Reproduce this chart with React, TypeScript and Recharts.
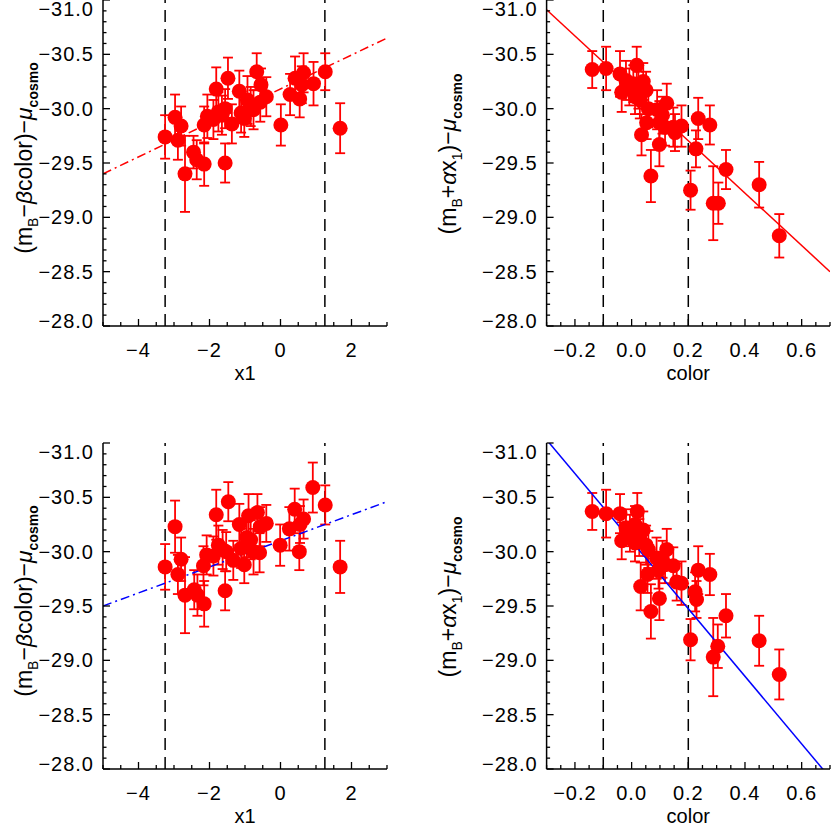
import React from 'react';
import { ScatterChart, Scatter, XAxis, YAxis, ErrorBar, ReferenceLine } from 'recharts';

const FONT = '"Liberation Sans", Arial, Helvetica, sans-serif';

// upper left: (mB - beta*color) - mu vs x1
const x1UpperLeft = [-3.25, -2.97, -2.8, -2.89, -2.69, -2.45, -2.36, -2.15, -2.15, -2.06, -1.81, -1.89, -1.75, -1.65, -1.56, -1.48, -1.56, -1.37, -1.16, -1.11, -1.02, -0.93, -0.84, -0.76, -0.67, -0.55, -0.57, -0.4, 0.01, 0.27, 0.41, 0.54, 0.6, 0.65, 0.93, 1.26, 1.68];
const magUpperLeft = [-29.74, -29.92, -29.84, -29.71, -29.4, -29.6, -29.53, -29.49, -29.85, -29.93, -30.18, -29.9, -29.97, -29.94, -29.5, -30.28, -30.0, -29.86, -30.16, -29.96, -29.91, -30.08, -30.02, -29.99, -30.34, -30.22, -30.06, -30.11, -29.85, -30.13, -30.28, -30.09, -30.22, -30.33, -30.23, -30.34, -29.82];
const errUpperLeft = [0.2, 0.21, 0.18, 0.18, 0.35, 0.15, 0.18, 0.2, 0.17, 0.2, 0.2, 0.18, 0.18, 0.18, 0.18, 0.19, 0.18, 0.18, 0.19, 0.18, 0.17, 0.22, 0.18, 0.18, 0.17, 0.15, 0.18, 0.18, 0.19, 0.19, 0.2, 0.17, 0.17, 0.18, 0.2, 0.17, 0.23];

// upper right: (mB + alpha*x1) - mu vs color
const colorUpperRight = [-0.139, -0.09, -0.041, -0.035, -0.02, -0.008, 0.006, 0.018, 0.012, 0.024, 0.029, 0.035, 0.041, 0.051, 0.059, 0.053, 0.068, 0.09, 0.098, 0.098, 0.109, 0.118, 0.124, 0.147, 0.153, 0.176, 0.208, 0.227, 0.235, 0.276, 0.288, 0.306, 0.333, 0.45, 0.521];
const magUpperRight = [-30.36, -30.37, -30.32, -30.15, -30.26, -30.2, -30.23, -30.4, -30.11, -30.17, -30.08, -29.76, -30.25, -30.17, -30.0, -29.87, -29.38, -29.99, -29.87, -29.67, -29.94, -29.83, -30.05, -29.83, -29.78, -29.84, -29.25, -29.63, -29.91, -29.85, -29.13, -29.13, -29.44, -29.3, -28.83];
const errUpperRight = [0.17, 0.2, 0.21, 0.18, 0.18, 0.17, 0.17, 0.17, 0.16, 0.17, 0.17, 0.19, 0.17, 0.17, 0.17, 0.15, 0.24, 0.18, 0.2, 0.2, 0.17, 0.17, 0.18, 0.18, 0.17, 0.19, 0.18, 0.17, 0.19, 0.18, 0.34, 0.19, 0.18, 0.21, 0.2];

// lower left
const x1LowerLeft = [-3.25, -2.97, -2.89, -2.8, -2.69, -2.43, -2.34, -2.15, -2.17, -2.08, -1.81, -1.89, -1.75, -1.63, -1.56, -1.47, -1.53, -1.33, -1.16, -1.11, -1.02, -0.95, -0.9, -0.84, -0.76, -0.65, -0.57, -0.59, -0.4, -0.01, 0.25, 0.4, 0.53, 0.55, 0.65, 0.91, 1.26, 1.68];
const magLowerLeft = [-29.86, -30.23, -29.79, -29.93, -29.6, -29.65, -29.6, -29.52, -29.87, -29.97, -30.34, -29.96, -30.06, -30.02, -29.64, -30.46, -30.0, -29.92, -30.25, -30.03, -29.88, -30.13, -30.33, -30.11, -30.0, -30.36, -30.23, -29.99, -30.26, -30.06, -30.21, -30.39, -30.0, -30.25, -30.3, -30.59, -30.43, -29.86];
const errLowerLeft = [0.21, 0.24, 0.18, 0.2, 0.35, 0.18, 0.19, 0.21, 0.18, 0.18, 0.23, 0.18, 0.18, 0.18, 0.18, 0.18, 0.18, 0.18, 0.19, 0.18, 0.17, 0.18, 0.2, 0.18, 0.21, 0.17, 0.18, 0.18, 0.17, 0.19, 0.2, 0.19, 0.17, 0.17, 0.18, 0.23, 0.18, 0.24];

// lower right
const colorLowerRight = [-0.139, -0.09, -0.041, -0.035, -0.02, -0.006, 0.012, 0.02, 0.012, 0.027, 0.032, 0.041, 0.051, 0.059, 0.056, 0.068, 0.088, 0.095, 0.098, 0.109, 0.118, 0.124, 0.147, 0.159, 0.176, 0.208, 0.224, 0.229, 0.235, 0.276, 0.288, 0.304, 0.333, 0.45, 0.521];
const magLowerRight = [-30.37, -30.35, -30.35, -30.1, -30.22, -30.17, -30.25, -30.37, -30.08, -30.13, -29.68, -30.2, -30.06, -30.02, -29.79, -29.45, -29.94, -29.83, -29.57, -29.93, -29.88, -30.02, -29.87, -29.72, -29.71, -29.19, -29.63, -29.56, -29.83, -29.79, -29.03, -29.13, -29.41, -29.18, -28.87];
const errLowerRight = [0.17, 0.22, 0.18, 0.17, 0.17, 0.17, 0.17, 0.17, 0.17, 0.17, 0.22, 0.17, 0.18, 0.17, 0.17, 0.25, 0.19, 0.17, 0.2, 0.17, 0.17, 0.19, 0.17, 0.17, 0.2, 0.19, 0.18, 0.17, 0.22, 0.19, 0.36, 0.2, 0.2, 0.23, 0.23];

// cuts and fitted relations
const cutsX1 = [-3.25, 1.25];
const cutsColor = [-0.1, 0.2];
const fitUpperLeft = [{ x: -5, y: -29.4 }, { x: 3, y: -30.65 }];
const fitUpperRight = [{ x: -0.3, y: -30.91 }, { x: 0.7, y: -28.5 }];
const fitLowerLeft = [{ x: -5, y: -29.5 }, { x: 3, y: -30.46 }];
const fitLowerRight = [{ x: -0.3, y: -31.03 }, { x: 0.7, y: -27.92 }];

// axes
const yDomain: [number, number] = [-31, -28];
const yMajor = [-31, -30.5, -30, -29.5, -29, -28.5, -28];
const x1Domain: [number, number] = [-5, 3];
const x1Major = [-4, -2, 0, 2];
const colorDomain: [number, number] = [-0.3, 0.7];
const colorMajor = [-0.2, 0, 0.2, 0.4, 0.6];

const steps = (from: number, to: number, step: number) => {
  const n = Math.round((to - from) / step);
  const out: number[] = [];
  for (let i = 0; i <= n; i++) out.push(Math.round((from + i * step) * 1000) / 1000);
  return out;
};
const yMinor = steps(-31, -28, 0.1);
const x1Minor = steps(-5, 3, 0.5);
const colorMinor = steps(-0.3, 0.7, 0.05);

const isMajor = (majors: number[], v: number) => majors.some((m) => Math.abs(m - v) < 1e-6);
const fmt = (v: number, digits: number) => v.toFixed(digits).replace('-', '\u2212');

const bottomTick = (majors: number[], digits: number) => (p: any) => {
  const v = p.payload.value;
  const major = isMajor(majors, v);
  return (
    <g>
      <line x1={p.x} x2={p.x} y1={p.y} y2={p.y - (major ? 7 : 4)} stroke="#000" strokeWidth={1.3} />
      {major && (
        <text x={p.x} y={p.y + 31} textAnchor="middle" fontSize={20} fontFamily={FONT} letterSpacing={1} fill="#000">
          {fmt(v, digits)}
        </text>
      )}
    </g>
  );
};

const topTick = (majors: number[]) => (p: any) => {
  const major = isMajor(majors, p.payload.value);
  return <line x1={p.x} x2={p.x} y1={p.y} y2={p.y + (major ? 7 : 4)} stroke="#000" strokeWidth={1.3} />;
};

const leftTick = (p: any) => {
  const v = p.payload.value;
  const major = isMajor(yMajor, v);
  const shift = v === -31 ? 9 : v === -28 ? -5 : 0;
  return (
    <g>
      <line x1={p.x} x2={p.x + (major ? 7 : 3.5)} y1={p.y} y2={p.y} stroke="#000" strokeWidth={1.3} />
      {major && (
        <text x={p.x - 9} y={p.y + 7 + shift} textAnchor="end" fontSize={20} fontFamily={FONT} letterSpacing={1} fill="#000">
          {fmt(v, 1)}
        </text>
      )}
    </g>
  );
};

const rightTick = (p: any) => {
  const major = isMajor(yMajor, p.payload.value);
  return <line x1={p.x} x2={p.x - (major ? 7 : 3.5)} y1={p.y} y2={p.y} stroke="#000" strokeWidth={1.3} />;
};

const titleBeta = (
  <>
    (m<tspan fontSize={14} dy={6}>B</tspan>
    <tspan dy={-6}>{'\u2212'}</tspan>
    <tspan fontStyle="italic">β</tspan>color){'\u2212'}
    <tspan fontStyle="italic">μ</tspan>
    <tspan fontSize={14} fontWeight="bold" dy={6}>cosmo</tspan>
  </>
);

const titleAlpha = (
  <>
    (m<tspan fontSize={14} dy={6}>B</tspan>
    <tspan dy={-6}>+</tspan>
    <tspan fontStyle="italic">α</tspan>x<tspan fontSize={14} dy={6}>1</tspan>
    <tspan dy={-6}>){'\u2212'}</tspan>
    <tspan fontStyle="italic">μ</tspan>
    <tspan fontSize={14} fontWeight="bold" dy={6}>cosmo</tspan>
  </>
);

interface PanelProps {
  left: number;
  top: number;
  width: number;
  height: number;
  marginTop: number;
  marginRight: number;
  yAxisWidth: number;
  xs: number[];
  ys: number[];
  errs: number[];
  xDomain: [number, number];
  xMajor: number[];
  xMinor: number[];
  xDigits: number;
  cuts: number[];
  fit: { x: number; y: number }[];
  fitColor: string;
  fitDash?: string;
  xTitle: string;
  yTitle: React.ReactNode;
  titleX: number;
  titleDy: number;
}

const Panel: React.FC<PanelProps> = (p) => {
  const data = p.xs.map((x, i) => ({ x, y: p.ys[i], err: p.errs[i] }));
  const xAxisHeight = p.height - p.marginTop - 326;
  return (
    <div style={{ position: 'absolute', left: p.left, top: p.top }}>
      <ScatterChart
        width={p.width}
        height={p.height}
        margin={{ top: p.marginTop, right: p.marginRight, bottom: 0, left: 0 }}
      >
        <XAxis
          xAxisId="b"
          dataKey="x"
          type="number"
          orientation="bottom"
          domain={p.xDomain}
          allowDataOverflow
          ticks={p.xMinor}
          interval={0}
          height={xAxisHeight}
          tickSize={0}
          tickMargin={0}
          tickLine={false}
          tick={bottomTick(p.xMajor, p.xDigits)}
          axisLine={{ stroke: '#000', strokeWidth: 1.5 }}
          label={(lp: any) => {
            const vb = lp.viewBox;
            return (
              <text x={vb.x + vb.width / 2} y={vb.y + 54} textAnchor="middle" fontSize={20} fontFamily={FONT} fill="#000">
                {p.xTitle}
              </text>
            );
          }}
        />
        <XAxis
          xAxisId="t"
          type="number"
          orientation="top"
          domain={p.xDomain}
          allowDataOverflow
          ticks={p.xMinor}
          interval={0}
          height={0}
          tickSize={0}
          tickMargin={0}
          tickLine={false}
          tick={topTick(p.xMajor)}
          axisLine={{ stroke: '#000', strokeWidth: 1.5 }}
        />
        <YAxis
          yAxisId="l"
          dataKey="y"
          type="number"
          orientation="left"
          domain={yDomain}
          reversed
          allowDataOverflow
          ticks={yMinor}
          interval={0}
          width={p.yAxisWidth}
          tickSize={0}
          tickMargin={0}
          tickLine={false}
          tick={leftTick}
          axisLine={{ stroke: '#000', strokeWidth: 1.5 }}
          label={(lp: any) => {
            const vb = lp.viewBox;
            const cx = vb.x + p.titleX;
            const cy = vb.y + vb.height / 2 + p.titleDy;
            return (
              <text
                x={cx}
                y={cy}
                transform={`rotate(-90 ${cx} ${cy})`}
                textAnchor="middle"
                fontSize={23}
                fontFamily={FONT}
                fill="#000"
              >
                {p.yTitle}
              </text>
            );
          }}
        />
        <YAxis
          yAxisId="r"
          type="number"
          orientation="right"
          domain={yDomain}
          reversed
          allowDataOverflow
          ticks={yMinor}
          interval={0}
          width={0}
          tickSize={0}
          tickMargin={0}
          tickLine={false}
          tick={rightTick}
          axisLine={{ stroke: '#000', strokeWidth: 1.5 }}
        />
        {p.cuts.map((c) => (
          <ReferenceLine
            key={c}
            xAxisId="b"
            yAxisId="l"
            x={c}
            stroke="#000"
            strokeWidth={1.5}
            strokeDasharray="12 7"
          />
        ))}
        <Scatter
          xAxisId="b"
          yAxisId="l"
          data={data}
          isAnimationActive={false}
          fill="#ff0000"
          shape={(s: any) => <circle cx={s.cx} cy={s.cy} r={7.5} fill="#ff0000" />}
        >
          <ErrorBar dataKey="err" direction="y" width={5} stroke="#ff0000" strokeWidth={1.8} isAnimationActive={false} />
        </Scatter>
        <ReferenceLine
          xAxisId="b"
          yAxisId="l"
          segment={p.fit}
          ifOverflow="hidden"
          stroke={p.fitColor}
          strokeWidth={1.5}
          strokeDasharray={p.fitDash}
        />
      </ScatterChart>
    </div>
  );
};

export default function App() {
  return (
    <div style={{ position: 'absolute', left: 0, top: 0, width: 831, height: 825, background: '#fff' }}>
      <Panel
        left={0} top={0} width={400} height={410} marginTop={0} marginRight={13} yAxisWidth={103}
        xs={x1UpperLeft} ys={magUpperLeft} errs={errUpperLeft}
        xDomain={x1Domain} xMajor={x1Major} xMinor={x1Minor} xDigits={0}
        cuts={cutsX1} fit={fitUpperLeft} fitColor="#ff0000" fitDash="9 4 2 4"
        xTitle="x1" yTitle={titleBeta} titleX={32} titleDy={-5}
      />
      <Panel
        left={420} top={0} width={411} height={410} marginTop={0} marginRight={1} yAxisWidth={126.6}
        xs={colorUpperRight} ys={magUpperRight} errs={errUpperRight}
        xDomain={colorDomain} xMajor={colorMajor} xMinor={colorMinor} xDigits={1}
        cuts={cutsColor} fit={fitUpperRight} fitColor="#ff0000"
        xTitle="color" yTitle={titleAlpha} titleX={36} titleDy={-9}
      />
      <Panel
        left={0} top={410} width={400} height={415} marginTop={33} marginRight={13} yAxisWidth={103}
        xs={x1LowerLeft} ys={magLowerLeft} errs={errLowerLeft}
        xDomain={x1Domain} xMajor={x1Major} xMinor={x1Minor} xDigits={0}
        cuts={cutsX1} fit={fitLowerLeft} fitColor="#0000ff" fitDash="9 4 2 4"
        xTitle="x1" yTitle={titleBeta} titleX={32} titleDy={-5}
      />
      <Panel
        left={420} top={410} width={411} height={415} marginTop={33} marginRight={1} yAxisWidth={126.6}
        xs={colorLowerRight} ys={magLowerRight} errs={errLowerRight}
        xDomain={colorDomain} xMajor={colorMajor} xMinor={colorMinor} xDigits={1}
        cuts={cutsColor} fit={fitLowerRight} fitColor="#0000ff"
        xTitle="color" yTitle={titleAlpha} titleX={36} titleDy={-9}
      />
    </div>
  );
}
